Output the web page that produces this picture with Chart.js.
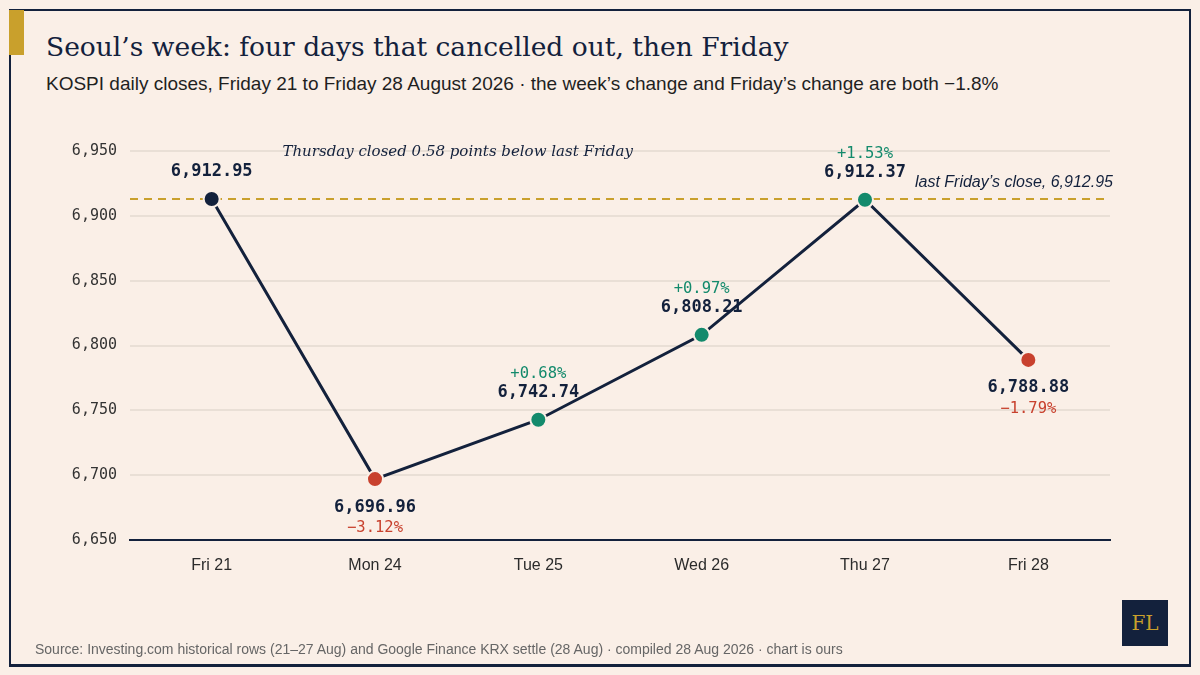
<!DOCTYPE html>
<html>
<head>
<meta charset="utf-8">
<script src="https://cdn.jsdelivr.net/npm/chart.js@4.4.1/dist/chart.umd.min.js"></script>
<style>
  html, body { margin:0; padding:0; background:#faefe7; }
  body { width:1200px; height:675px; position:relative; overflow:hidden; }
  #frame { position:absolute; left:9px; top:9px; width:1178px; height:653px; border:2px solid #13213c; border-bottom-width:3px; }
  #accent { position:absolute; left:9px; top:10px; width:15px; height:45px; background:#c9a02c; }
  #title { position:absolute; left:46px; top:31px; font-family: Georgia, "DejaVu Serif", serif; font-size:26.5px; color:#13213c; white-space:nowrap; }
  #subtitle { position:absolute; left:46px; top:73px; font-family:"Liberation Sans", Arial, sans-serif; font-size:19px; color:#1f1f1f; white-space:nowrap; }
  #footer { position:absolute; left:35px; top:641px; font-family:"Liberation Sans", Arial, sans-serif; font-size:14px; color:#666; white-space:nowrap; }
  #logo { position:absolute; left:1122px; top:600px; width:46px; height:46px; background:#13213c; color:#c9a02c; font-family:"DejaVu Serif", serif; font-size:20px; line-height:46px; text-align:center; }
  #wrap { position:absolute; left:0; top:0; width:1200px; height:675px; }
</style>
</head>
<body>
<div id="frame"></div>
<div id="accent"></div>
<div id="title">Seoul’s week: four days that cancelled out, then Friday</div>
<div id="subtitle">KOSPI daily closes, Friday 21 to Friday 28 August 2026 · the week’s change and Friday’s change are both −1.8%</div>
<div id="wrap"><canvas id="c" width="1200" height="675"></canvas></div>
<div id="footer">Source: Investing.com historical rows (21–27 Aug) and Google Finance KRX settle (28 Aug) · compiled 28 Aug 2026 · chart is ours</div>
<div id="logo">FL</div>
<script>
const days = ["Fri 21", "Mon 24", "Tue 25", "Wed 26", "Thu 27", "Fri 28"];
const closes = [6912.95, 6696.96, 6742.74, 6808.21, 6912.37, 6788.88];
const valueLabels = ["6,912.95", "6,696.96", "6,742.74", "6,808.21", "6,912.37", "6,788.88"];
const changes = [null, -3.12, 0.68, 0.97, 1.53, -1.79];
const changeLabels = ["", "−3.12%", "+0.68%", "+0.97%", "+1.53%", "−1.79%"];
const lastFridayClose = 6912.95;
const yTicks = [6650, 6700, 6750, 6800, 6850, 6900, 6950];
const annotationText = "Thursday closed 0.58 points below last Friday";
const refLabel = "last Friday’s close, 6,912.95";

const NAVY = "#13213c", GOLD = "#c9a02c", GREEN = "#138a6c", RED = "#c8412e", BG = "#faefe7";
const pointColors = changes.map(c => c === null ? NAVY : (c < 0 ? RED : GREEN));

const overlay = {
  id: "overlay",
  beforeDatasetsDraw(chart) {
    const ctx = chart.ctx, x = chart.scales.x, y = chart.scales.y, a = chart.chartArea;
    ctx.save();
    const yr = y.getPixelForValue(lastFridayClose);
    ctx.strokeStyle = GOLD; ctx.lineWidth = 2; ctx.setLineDash([8, 6]);
    ctx.beginPath(); ctx.moveTo(a.left, yr); ctx.lineTo(a.right - 5, yr); ctx.stroke();
    ctx.setLineDash([]);
    ctx.font = "italic 16px 'Liberation Sans', Arial, sans-serif";
    ctx.fillStyle = NAVY; ctx.textAlign = "right"; ctx.textBaseline = "middle";
    ctx.fillText(refLabel, a.right + 3, yr - 16);
    ctx.font = "italic 15px Georgia, 'DejaVu Serif', serif";
    ctx.textAlign = "center";
    ctx.fillText(annotationText, (x.getPixelForValue(0) + x.getPixelForValue(3)) / 2 + 1, y.getPixelForValue(6950) + 1);
    closes.forEach((v, i) => {
      const px = x.getPixelForValue(i), py = y.getPixelForValue(v);
      const below = changes[i] !== null && changes[i] < 0;
      ctx.textAlign = "center"; ctx.textBaseline = "middle";
      ctx.font = "bold 17px 'DejaVu Sans Mono', monospace";
      ctx.fillStyle = NAVY;
      ctx.fillText(valueLabels[i], px, below ? py + 28 : py - 27);
      if (changeLabels[i]) {
        ctx.font = "15.5px 'DejaVu Sans Mono', monospace";
        ctx.fillStyle = pointColors[i];
        ctx.fillText(changeLabels[i], px, below ? py + 49 : py - 46);
      }
    });
    ctx.restore();
  }
};

new Chart(document.getElementById("c"), {
  type: "line",
  data: {
    labels: days,
    datasets: [{
      data: closes,
      borderColor: NAVY,
      borderWidth: 3,
      pointRadius: 8,
      pointHoverRadius: 8,
      pointBackgroundColor: pointColors,
      pointBorderColor: BG,
      pointBorderWidth: 2,
      tension: 0
    }]
  },
  options: {
    responsive: false,
    animation: false,
    devicePixelRatio: 1,
    layout: { padding: { left: 0, right: 90, top: 151, bottom: 95 } },
    plugins: { legend: { display: false }, tooltip: { enabled: false } },
    scales: {
      x: {
        offset: true,
        afterFit(s) { s.height = 40; },
        grid: { display: false, drawTicks: false },
        border: { display: true, color: NAVY, width: 2 },
        ticks: { padding: 16, color: "#2b2b2b", font: { family: "'Liberation Sans', Arial, sans-serif", size: 16 } }
      },
      y: {
        min: 6650, max: 6950,
        afterFit(s) { s.width = 130; },
        afterBuildTicks(s) { s.ticks = yTicks.map(v => ({ value: v })); },
        grid: { color: "#e9dfd6", lineWidth: 2, drawTicks: false },
        border: { display: false },
        ticks: {
          padding: 13, color: "#333",
          font: { family: "'DejaVu Sans Mono', monospace", size: 15 },
          callback: v => v.toLocaleString("en-US")
        }
      }
    }
  },
  plugins: [overlay]
});
</script>
</body>
</html>
